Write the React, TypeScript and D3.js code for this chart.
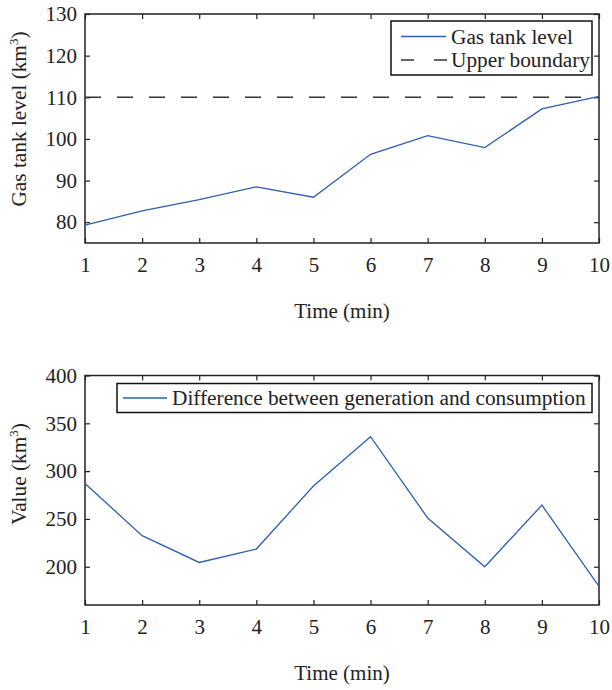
import { useEffect, useRef } from "react";
import { select, scaleLinear, line, axisBottom, axisLeft, axisTop, axisRight } from "d3";

// x values (time in minutes)
const times = [1, 2, 3, 4, 5, 6, 7, 8, 9, 10];
// gas tank level per minute
const tankLevel = [79.3, 82.7, 85.4, 88.5, 86.0, 96.3, 100.8, 97.9, 107.2, 110.2];
const upperBoundary = 110;
// difference between generation and consumption
const difference = [287, 232.5, 204.5, 218.5, 284.5, 336, 251, 200, 264.5, 179.5];

const xTicks = [1, 2, 3, 4, 5, 6, 7, 8, 9, 10];
const topYTicks = [80, 90, 100, 110, 120, 130];
const bottomYTicks = [200, 250, 300, 350, 400];

const FONT = "'Liberation Serif', 'Times New Roman', serif";
const BLUE = "#2e5fb0";
const LABEL_SIZE = 21.3;

const App = () => {
  const svgRef = useRef(null);

  useEffect(() => {
    const svg = select(svgRef.current);
    svg.selectAll("*").remove();

    const left = 85;
    const right = 599;

    const drawPanel = (opts) => {
      const { top, bottom, domain, yTicks, yLabel, yLabelY } = opts;
      const x = scaleLinear().domain([1, 10]).range([left, right]);
      const y = scaleLinear().domain(domain).range([bottom, top]);
      const g = svg.append("g");

      // ticks on all four sides, pointing inwards
      const styleAxis = (sel) => {
        sel.select(".domain").remove();
        sel.selectAll(".tick line").attr("stroke", "#222").attr("stroke-width", 1.2);
        sel.selectAll("text").attr("font-family", FONT).attr("font-size", 21).attr("fill", "#222");
      };
      g.append("g")
        .attr("transform", `translate(0,${bottom})`)
        .call(axisBottom(x).tickValues(xTicks).tickSizeInner(-5).tickPadding(14))
        .call(styleAxis);
      g.append("g")
        .attr("transform", `translate(0,${top})`)
        .call(axisTop(x).tickValues(xTicks).tickSizeInner(-5).tickFormat(() => ""))
        .call(styleAxis);
      g.append("g")
        .attr("transform", `translate(${left},0)`)
        .call(axisLeft(y).tickValues(yTicks).tickSizeInner(-5).tickPadding(8))
        .call(styleAxis);
      g.append("g")
        .attr("transform", `translate(${right},0)`)
        .call(axisRight(y).tickValues(yTicks).tickSizeInner(-5).tickFormat(() => ""))
        .call(styleAxis);

      // box
      g.append("rect")
        .attr("x", left)
        .attr("y", top)
        .attr("width", right - left)
        .attr("height", bottom - top)
        .attr("fill", "none")
        .attr("stroke", "#222")
        .attr("stroke-width", 1.5);

      // x label
      g.append("text")
        .attr("x", (left + right) / 2)
        .attr("y", bottom + 75)
        .attr("text-anchor", "middle")
        .attr("font-family", FONT)
        .attr("font-size", 21)
        .attr("fill", "#222")
        .text("Time (min)");

      // y label
      const yl = g
        .append("text")
        .attr("transform", `translate(26,${yLabelY}) rotate(-90)`)
        .attr("text-anchor", "middle")
        .attr("font-family", FONT)
        .attr("font-size", LABEL_SIZE)
        .attr("fill", "#222");
      yl.append("tspan").text(yLabel + " (km");
      yl.append("tspan").attr("font-size", 13).attr("dy", -8).text("3");
      yl.append("tspan").attr("dy", 8).text(")");

      return { g, x, y };
    };

    // top panel
    const p1 = drawPanel({
      top: 14,
      bottom: 243,
      domain: [75, 130],
      yTicks: topYTicks,
      yLabel: "Gas tank level",
      yLabelY: 119,
    });
    p1.g.append("line")
      .attr("x1", p1.x(1))
      .attr("x2", p1.x(10))
      .attr("y1", p1.y(upperBoundary))
      .attr("y2", p1.y(upperBoundary))
      .attr("stroke", "#333")
      .attr("stroke-width", 1.3)
      .attr("stroke-dasharray", "16,16");
    p1.g.append("path")
      .datum(tankLevel)
      .attr("fill", "none")
      .attr("stroke", BLUE)
      .attr("stroke-width", 1.3)
      .attr("d", line().x((d, i) => p1.x(times[i])).y((d) => p1.y(d)));

    // top legend
    const l1 = p1.g.append("g");
    l1.append("rect")
      .attr("x", 391)
      .attr("y", 21)
      .attr("width", 201)
      .attr("height", 54)
      .attr("fill", "white")
      .attr("stroke", "#111")
      .attr("stroke-width", 1.5);
    l1.append("line")
      .attr("x1", 401).attr("x2", 446).attr("y1", 36.5).attr("y2", 36.5)
      .attr("stroke", BLUE).attr("stroke-width", 1.3);
    l1.append("line")
      .attr("x1", 401).attr("x2", 447).attr("y1", 60).attr("y2", 60)
      .attr("stroke", "#333").attr("stroke-width", 1.3)
      .attr("stroke-dasharray", "13,20");
    l1.append("text")
      .attr("x", 451).attr("y", 43.5)
      .attr("font-family", FONT).attr("font-size", LABEL_SIZE).attr("fill", "#222")
      .text("Gas tank level");
    l1.append("text")
      .attr("x", 451).attr("y", 67)
      .attr("font-family", FONT).attr("font-size", LABEL_SIZE).attr("fill", "#222")
      .text("Upper boundary");

    // bottom panel
    const p2 = drawPanel({
      top: 375.5,
      bottom: 605,
      domain: [160, 400],
      yTicks: bottomYTicks,
      yLabel: "Value",
      yLabelY: 474,
    });
    p2.g.append("path")
      .datum(difference)
      .attr("fill", "none")
      .attr("stroke", BLUE)
      .attr("stroke-width", 1.3)
      .attr("d", line().x((d, i) => p2.x(times[i])).y((d) => p2.y(d)));

    const l2 = p2.g.append("g");
    l2.append("rect")
      .attr("x", 117)
      .attr("y", 383.5)
      .attr("width", 475)
      .attr("height", 29)
      .attr("fill", "white")
      .attr("stroke", "#111")
      .attr("stroke-width", 1.5);
    l2.append("line")
      .attr("x1", 123).attr("x2", 167).attr("y1", 398).attr("y2", 398)
      .attr("stroke", BLUE).attr("stroke-width", 1.3);
    l2.append("text")
      .attr("x", 172).attr("y", 405)
      .attr("font-family", FONT).attr("font-size", LABEL_SIZE).attr("fill", "#222")
      .text("Difference between generation and consumption");
  }, []);

  return (
    <svg
      ref={svgRef}
      width={612}
      height={690}
      style={{ position: "absolute", left: 0, top: 0, background: "white" }}
    ></svg>
  );
};

export default App;
